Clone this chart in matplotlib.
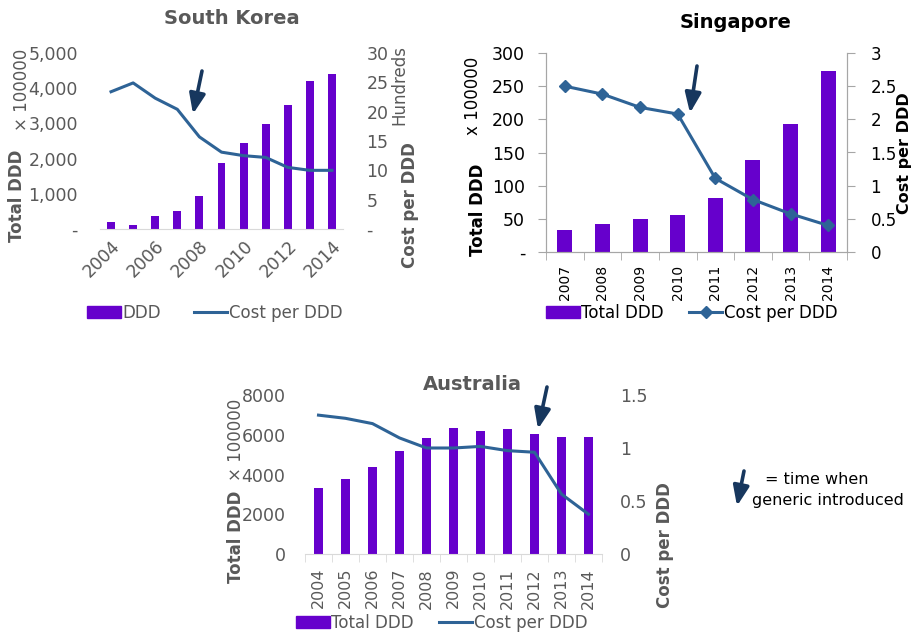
import matplotlib
matplotlib.use("Agg")
import matplotlib.pyplot as plt
from matplotlib.patches import Patch, FancyArrowPatch
from matplotlib.lines import Line2D
from matplotlib.ticker import FuncFormatter, MultipleLocator, FixedLocator
import numpy as np

plt.rcParams['font.family'] = ['DejaVu Sans']

# South Korea
years_kr = [2004, 2005, 2006, 2007, 2008, 2009, 2010, 2011, 2012, 2013, 2014]
ddd_kr = [200, 110, 370, 510, 950, 1870, 2450, 2970, 3530, 4200, 4400]
cost_kr = [23.4, 24.9, 22.3, 20.4, 15.7, 13.1, 12.5, 12.2, 10.5, 10.0, 10.0]  # hundreds

# Singapore
years_sg = [2007, 2008, 2009, 2010, 2011, 2012, 2013, 2014]
ddd_sg = [33, 42, 50, 56, 82, 138, 193, 273]
cost_sg = [2.50, 2.38, 2.18, 2.08, 1.11, 0.79, 0.575, 0.40]

# Australia
years_au = [2004, 2005, 2006, 2007, 2008, 2009, 2010, 2011, 2012, 2013, 2014]
ddd_au = [3300, 3750, 4400, 5200, 5850, 6350, 6200, 6300, 6050, 5900, 5900]
cost_au = [1.31, 1.28, 1.23, 1.095, 1.0, 1.0, 1.015, 0.975, 0.96, 0.565, 0.375]

PURPLE = '#6600CC'
BLUE = '#2E6396'
NAVY = '#17375E'
GREY = '#595959'

W, H = 915, 636
fig = plt.figure(figsize=(W / 100, H / 100), dpi=100)


def fx(x):
    return x / W


def fy(y):
    return 1 - y / H


def box(x0, y0, x1, y1):
    return [fx(x0), fy(y1), fx(x1) - fx(x0), fy(y0) - fy(y1)]


def arrow(x0, y0, x1, y1):
    fig.add_artist(FancyArrowPatch((fx(x0), fy(y0)), (fx(x1), fy(y1)),
                                   transform=fig.transFigure,
                                   arrowstyle='-|>,head_length=0.75,head_width=0.3',
                                   mutation_scale=16, lw=2.6, color=NAVY,
                                   shrinkA=0, shrinkB=0))


def dash_zero(fmt):
    return FuncFormatter(lambda v, p: '-' if abs(v) < 1e-9 else fmt.format(v))


# ---- South Korea ----
ax = fig.add_axes(box(100, 53, 343, 229))
x = np.arange(len(years_kr))
ax.bar(x, ddd_kr, width=0.36, color=PURPLE, zorder=2)
ax.set_xlim(-0.5, len(x) - 0.5)
ax.set_ylim(0, 5000)
ax.yaxis.set_major_locator(MultipleLocator(1000))
ax.yaxis.set_major_formatter(dash_zero('{:,.0f}'))
ax.set_xticks(x[::2])
ax.set_xticklabels(years_kr[::2], rotation=45, ha='right', va='top', rotation_mode='anchor')
for s in ['top', 'left', 'right']:
    ax.spines[s].set_visible(False)
ax.spines['bottom'].set_color('#D9D9D9')
ax.tick_params(axis='y', length=0, labelsize=12.5, colors=GREY, pad=16)
ax.tick_params(axis='x', length=0, labelsize=12.5, colors=GREY, pad=6)
ax2 = ax.twinx()
ax2.plot(x, cost_kr, color=BLUE, lw=2.2, zorder=3)
ax2.set_ylim(0, 30)
ax2.yaxis.set_major_locator(MultipleLocator(5))
ax2.yaxis.set_major_formatter(dash_zero('{:.0f}'))
for s in ax2.spines.values():
    s.set_visible(False)
ax2.tick_params(length=0, labelsize=12.5, colors=GREY, pad=17)
fig.text(fx(232), fy(18), 'South Korea', ha='center', va='center',
         fontsize=14, fontweight='bold', color=GREY)
fig.text(fx(17), fy(196), 'Total DDD', rotation=90, ha='center', va='center',
         fontsize=12, fontweight='bold', color=GREY)
fig.text(fx(22), fy(90), '× 100000', rotation=90, ha='center', va='center',
         fontsize=12, color=GREY)
fig.text(fx(399), fy(85), 'Hundreds', rotation=90, ha='center', va='center',
         fontsize=12, color=GREY)
fig.text(fx(410), fy(205), 'Cost per DDD', rotation=90, ha='center', va='center',
         fontsize=12, fontweight='bold', color=GREY)
fig.legend(handles=[Patch(color=PURPLE, label='DDD'),
                    Line2D([], [], color=BLUE, lw=2.2, label='Cost per DDD')],
           loc='center', bbox_to_anchor=(fx(215), fy(313)), ncol=2, frameon=False,
           fontsize=12, handlelength=2, handletextpad=0.1, columnspacing=2.0,
           labelcolor=GREY)
arrow(202, 71, 193, 114)

# ---- Singapore ----
ax = fig.add_axes(box(546, 53, 847, 252))
x = np.arange(len(years_sg))
ax.bar(x, ddd_sg, width=0.4, color=PURPLE, zorder=2)
ax.set_xlim(-0.5, len(x) - 0.5)
ax.set_ylim(0, 300)
ax.yaxis.set_major_locator(MultipleLocator(50))
ax.yaxis.set_major_formatter(dash_zero('{:.0f}'))
ax.set_xticks(x)
ax.set_xticklabels(years_sg, rotation=90)
ax.xaxis.set_minor_locator(FixedLocator(np.arange(len(x) + 1) - 0.5))
ax.spines['top'].set_visible(False)
for s in ['left', 'right', 'bottom']:
    ax.spines[s].set_color('#A6A6A6')
ax.tick_params(axis='y', length=6, color='#A6A6A6', labelsize=12.5, pad=9)
ax.tick_params(axis='x', which='major', length=0, labelsize=10, pad=9)
ax.tick_params(axis='x', which='minor', length=6, color='#A6A6A6')
ax2 = ax.twinx()
ax2.plot(x, cost_sg, color=BLUE, lw=2.2, marker='D', markersize=6, zorder=3)
ax2.set_ylim(0, 3)
ax2.yaxis.set_major_locator(MultipleLocator(0.5))
ax2.yaxis.set_major_formatter(FuncFormatter(lambda v, p: '{:g}'.format(v)))
ax2.spines['top'].set_visible(False)
for s in ['left', 'right', 'bottom']:
    ax2.spines[s].set_color('#A6A6A6')
ax2.tick_params(length=6, color='#A6A6A6', labelsize=12, pad=11)
fig.text(fx(736), fy(22), 'Singapore', ha='center', va='center',
         fontsize=14, fontweight='bold', color='black')
fig.text(fx(478), fy(210), 'Total DDD', rotation=90, ha='center', va='center',
         fontsize=12, fontweight='bold', color='black')
fig.text(fx(473), fy(96), 'x 100000', rotation=90, ha='center', va='center',
         fontsize=12, color='black')
fig.text(fx(905), fy(153), 'Cost per DDD', rotation=90, ha='center', va='center',
         fontsize=11.5, fontweight='bold', color='black')
fig.legend(handles=[Patch(color=PURPLE, label='Total DDD'),
                    Line2D([], [], color=BLUE, lw=2.2, marker='D', markersize=6,
                           label='Cost per DDD')],
           loc='center', bbox_to_anchor=(fx(692), fy(313)), ncol=2, frameon=False,
           fontsize=12, handlelength=2, handletextpad=0.1, columnspacing=1.5)
arrow(697, 66, 690, 113)

# ---- Australia ----
ax = fig.add_axes(box(305, 395, 602, 554))
x = np.arange(len(years_au))
ax.bar(x, ddd_au, width=0.3, color=PURPLE, zorder=2)
ax.set_xlim(-0.5, len(x) - 0.5)
ax.set_ylim(0, 8000)
ax.yaxis.set_major_locator(MultipleLocator(2000))
ax.set_xticks(x)
ax.set_xticklabels(years_au, rotation=90)
ax.xaxis.set_minor_locator(FixedLocator(np.arange(len(x) + 1) - 0.5))
for s in ['top', 'left', 'right']:
    ax.spines[s].set_visible(False)
ax.spines['bottom'].set_color('#D9D9D9')
ax.tick_params(axis='y', length=0, labelsize=12.5, colors=GREY, pad=14)
ax.tick_params(axis='x', which='major', length=0, labelsize=11.5, colors=GREY, pad=10)
ax.tick_params(axis='x', which='minor', length=6, color='#D9D9D9')
ax2 = ax.twinx()
ax2.plot(x, cost_au, color=BLUE, lw=2.2, zorder=3)
ax2.set_ylim(0, 1.5)
ax2.yaxis.set_major_locator(MultipleLocator(0.5))
ax2.yaxis.set_major_formatter(FuncFormatter(lambda v, p: '{:g}'.format(v)))
for s in ax2.spines.values():
    s.set_visible(False)
ax2.tick_params(length=0, labelsize=12.5, colors=GREY, pad=13)
fig.text(fx(472), fy(385), 'Australia', ha='center', va='center',
         fontsize=14, fontweight='bold', color=GREY)
fig.text(fx(236), fy(537), 'Total DDD', rotation=90, ha='center', va='center',
         fontsize=12, fontweight='bold', color=GREY)
fig.text(fx(236), fy(440), '× 100000', rotation=90, ha='center', va='center',
         fontsize=12, color=GREY)
fig.text(fx(665), fy(545), 'Cost per DDD', rotation=90, ha='center', va='center',
         fontsize=12, fontweight='bold', color=GREY)
fig.legend(handles=[Patch(color=PURPLE, label='Total DDD'),
                    Line2D([], [], color=BLUE, lw=2.2, label='Cost per DDD')],
           loc='center', bbox_to_anchor=(fx(442), fy(623)), ncol=2, frameon=False,
           fontsize=12, handlelength=2, handletextpad=0.1, columnspacing=1.5,
           labelcolor=GREY)
arrow(547, 387, 538, 429)

# key for the arrows
arrow(744, 471, 737, 506)
fig.text(fx(817), fy(479), '= time when', ha='center', va='center', fontsize=11.5)
fig.text(fx(828), fy(501), 'generic introduced', ha='center', va='center', fontsize=11.5)

fig.savefig('out.png', dpi=100)
